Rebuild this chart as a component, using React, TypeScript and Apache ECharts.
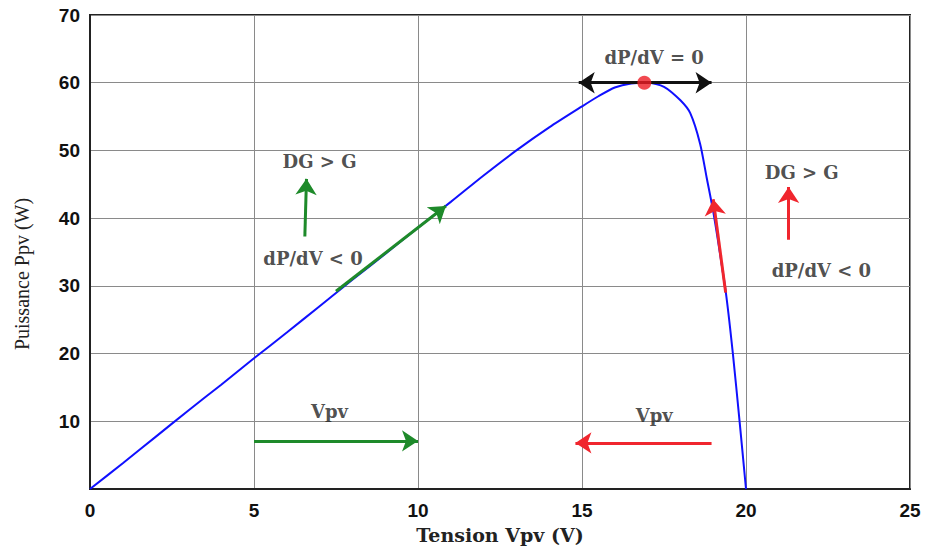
import React, { useEffect, useRef } from "react";
import * as echarts from "echarts";

const voltage = [0, 1, 2, 3, 4, 5, 6, 7, 8, 9, 10, 11, 12, 13, 14, 15, 15.5, 16, 16.5, 17, 17.5, 18, 18.3, 18.6, 18.8, 19, 19.2, 19.4, 19.6, 19.8, 20];
const power = [0, 3.8, 7.7, 11.6, 15.4, 19.3, 23.1, 27, 30.9, 34.7, 38.6, 42.4, 46.3, 50, 53.4, 56.5, 58, 59.3, 59.9, 60, 59.4, 57.4, 55.5, 51, 46, 41, 35, 28.5, 20, 10.2, 0];

const mppPoint = [16.9, 60];

const xTicks = [0, 25, 5];
const yTicks = [0, 70, 10];

const greenArrows = [
  [[7.5, 29.2], [10.85, 41.8]],
  [[6.55, 37.3], [6.6, 45.8]],
  [[5.0, 7.1], [10.0, 7.1]],
];
const redArrows = [
  [[19.38, 29], [19.0, 42.8]],
  [[21.3, 36.8], [21.3, 44.6]],
  [[18.95, 6.8], [14.8, 6.8]],
];
const blackDoubleArrow = [[14.9, 60], [18.95, 60]];

const annotations = [
  { name: "dP/dV = 0", value: [17.2, 63.7] },
  { name: "DG > G", value: [7.0, 48.3] },
  { name: "dP/dV < 0", value: [6.8, 34.1] },
  { name: "DG > G", value: [21.7, 46.8] },
  { name: "dP/dV < 0", value: [22.3, 32.3] },
  { name: "Vpv", value: [7.3, 11.4] },
  { name: "Vpv", value: [17.2, 10.9] },
];

export default function App() {
  const ref = useRef<HTMLDivElement>(null);
  useEffect(() => {
    if (!ref.current) return;
    const chart = echarts.init(ref.current, null, { renderer: "svg" });
    const tickFont = { fontFamily: "Liberation Sans", fontWeight: "bold", fontSize: 19, color: "#111" };
    const arrowSeries = (arrows: number[][][], color: string) => ({
      type: "lines",
      coordinateSystem: "cartesian2d",
      symbol: ["none", "arrow"],
      symbolSize: [0, 16],
      lineStyle: { color, width: 3, opacity: 1 },
      data: arrows.map((c) => ({ coords: c })),
      z: 5,
    });
    chart.setOption({
      animation: false,
      backgroundColor: "#fff",
      grid: { left: 90, right: 18, top: 15, bottom: 60, show: true, borderColor: "#222", borderWidth: 2 },
      xAxis: {
        type: "value",
        min: xTicks[0],
        max: xTicks[1],
        interval: xTicks[2],
        axisLine: { show: true, lineStyle: { color: "#222", width: 2 } },
        axisTick: { show: false },
        splitLine: { show: true, lineStyle: { color: "#8a8a8a", width: 1 } },
        axisLabel: { ...tickFont, margin: 12 },
        name: "Tension Vpv (V)",
        nameLocation: "middle",
        nameGap: 36,
        nameTextStyle: { fontFamily: "DejaVu Serif", fontWeight: "bold", fontSize: 19, color: "#222" },
      },
      yAxis: {
        type: "value",
        min: yTicks[0],
        max: yTicks[1],
        interval: yTicks[2],
        axisLine: { show: true, lineStyle: { color: "#222", width: 2 } },
        axisTick: { show: false },
        splitLine: { show: true, lineStyle: { color: "#8a8a8a", width: 1 } },
        axisLabel: { ...tickFont, margin: 10, formatter: (v: number) => (v === 0 ? "" : String(v)) },
      },
      graphic: [
        {
          type: "text",
          x: 22,
          y: 274,
          rotation: Math.PI / 2,
          style: {
            text: "Puissance Ppv (W)",
            fontFamily: "Liberation Serif",
            fontSize: 20,
            fill: "#222",
            textAlign: "center",
            textVerticalAlign: "middle",
          },
        },
      ],
      series: [
        {
          type: "line",
          data: voltage.map((v, i) => [v, power[i]]),
          showSymbol: false,
          smooth: 0.25,
          lineStyle: { color: "#1010ff", width: 2 },
          z: 3,
        },
        arrowSeries(greenArrows, "#1e8a2a"),
        arrowSeries(redArrows, "#f0262e"),
        {
          type: "lines",
          coordinateSystem: "cartesian2d",
          symbol: ["arrow", "arrow"],
          symbolSize: 16,
          lineStyle: { color: "#111", width: 3, opacity: 1 },
          data: [{ coords: blackDoubleArrow }],
          z: 4,
        },
        {
          type: "scatter",
          data: [mppPoint],
          symbolSize: 14,
          itemStyle: { color: "#ee1c24" },
          z: 6,
        },
        {
          type: "scatter",
          data: annotations,
          symbolSize: 0,
          label: {
            show: true,
            position: "inside",
            formatter: "{b}",
            fontFamily: "DejaVu Serif",
            fontWeight: "bold",
            fontSize: 18,
            color: "#222",
          },
          z: 7,
        },
      ],
    });
    return () => chart.dispose();
  }, []);
  return <div ref={ref} style={{ position: "fixed", left: 0, top: 0, width: 928, height: 549 }} />;
}
